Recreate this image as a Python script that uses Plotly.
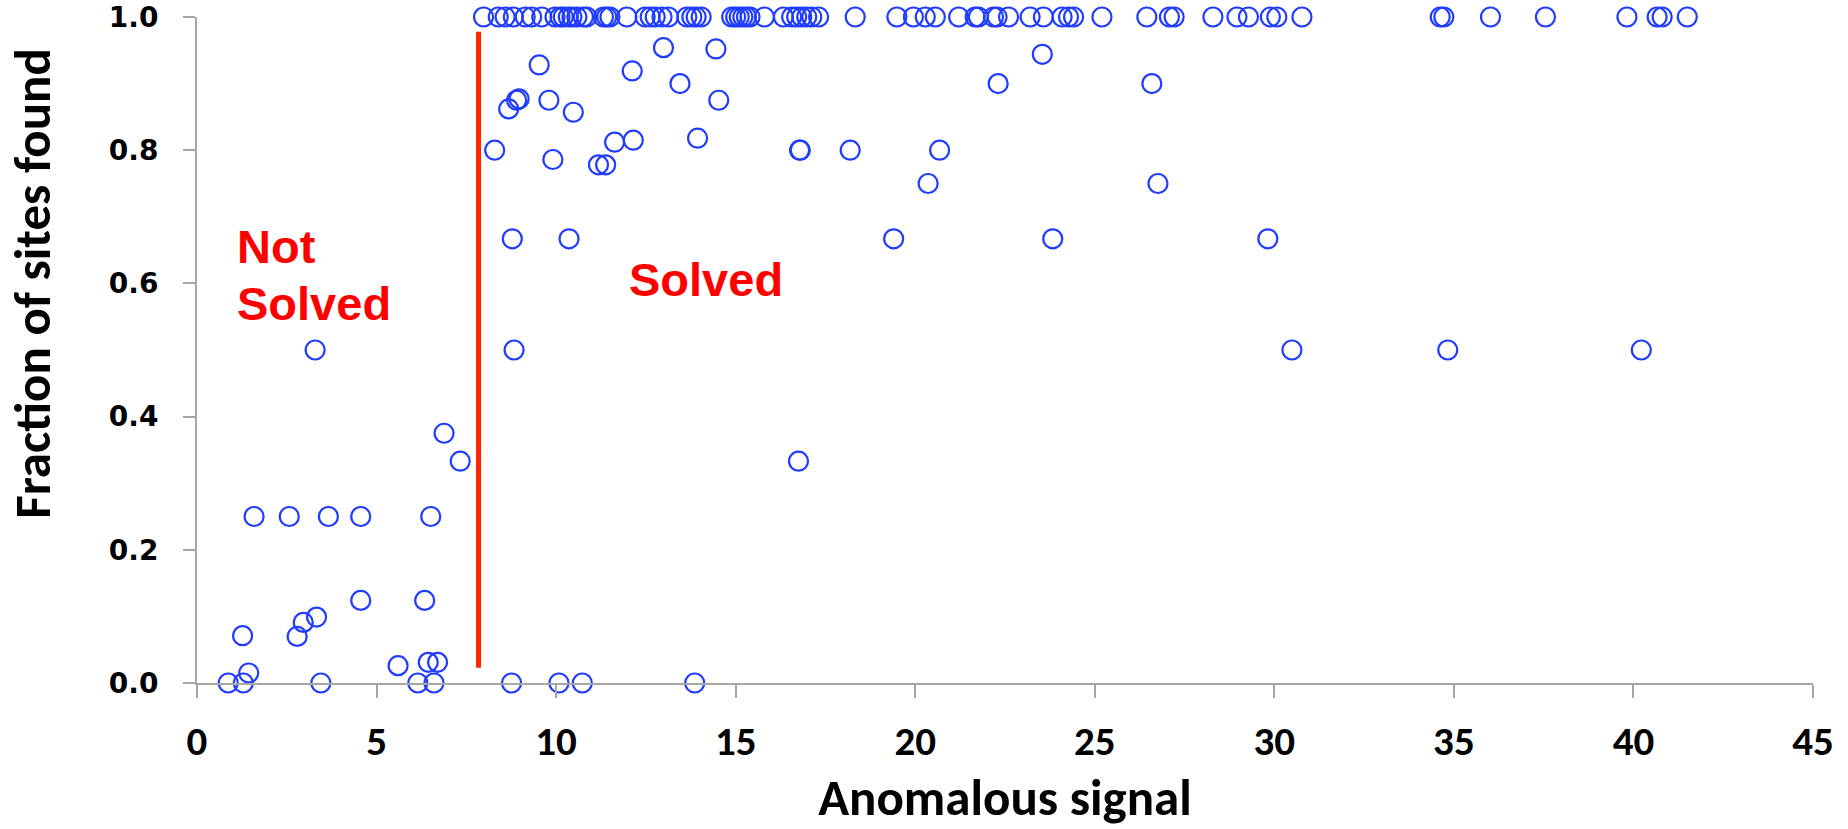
import plotly.graph_objects as go

# ---- data ----
# sites with all sites found (fraction = 1.0)
signal_top = [7.98, 8.39, 8.58, 8.81, 9.14, 9.32, 9.60, 9.97, 10.11, 10.20,
              10.34, 10.44, 10.58, 10.76, 10.85, 11.32, 11.41, 11.50, 11.97, 12.48,
              12.62, 12.76, 12.95, 13.13, 13.64, 13.78, 13.90, 14.04, 14.89, 15.00,
              15.10, 15.20, 15.30, 15.40, 15.80, 16.33, 16.56, 16.70, 16.84, 16.98,
              17.12, 17.31, 18.33, 19.49, 19.95, 20.28, 20.56, 21.21, 21.67, 21.76,
              22.18, 22.28, 22.60, 23.20, 23.57, 24.09, 24.27, 24.41, 25.20, 26.45,
              27.08, 27.21, 28.29, 28.96, 29.28, 29.89, 30.07, 30.77, 34.62, 34.72,
              36.02, 37.55, 39.82, 40.66, 40.80, 41.50]
fraction_top = [1.0, 1.0, 1.0, 1.0, 1.0, 1.0, 1.0, 1.0, 1.0, 1.0,
                1.0, 1.0, 1.0, 1.0, 1.0, 1.0, 1.0, 1.0, 1.0, 1.0,
                1.0, 1.0, 1.0, 1.0, 1.0, 1.0, 1.0, 1.0, 1.0, 1.0,
                1.0, 1.0, 1.0, 1.0, 1.0, 1.0, 1.0, 1.0, 1.0, 1.0,
                1.0, 1.0, 1.0, 1.0, 1.0, 1.0, 1.0, 1.0, 1.0, 1.0,
                1.0, 1.0, 1.0, 1.0, 1.0, 1.0, 1.0, 1.0, 1.0, 1.0,
                1.0, 1.0, 1.0, 1.0, 1.0, 1.0, 1.0, 1.0, 1.0, 1.0,
                1.0, 1.0, 1.0, 1.0, 1.0, 1.0]

# remaining sites
signal_rest = [0.87, 1.29, 1.44, 1.27, 1.59, 2.57, 3.29, 3.45, 2.79, 2.96,
               3.33, 3.66, 4.56, 4.56, 5.60, 6.15, 6.34, 6.44, 6.51, 6.60,
               6.70, 6.88, 7.33,
               8.76, 10.08, 10.73, 13.86, 8.83, 8.78, 10.36, 16.75,
               8.29, 8.68, 8.90, 8.97, 9.53, 9.80, 9.91, 10.48, 11.18, 11.38,
               11.63, 12.15, 12.12, 12.99, 13.45, 14.45, 14.53, 13.94, 16.78, 16.80,
               18.19, 20.68, 20.36, 19.40, 23.83, 22.31, 23.54, 26.59, 26.76, 29.82,
               30.49, 34.83, 40.22]
fraction_rest = [0.0, 0.0, 0.015, 0.071, 0.25, 0.25, 0.5, 0.0, 0.07, 0.091,
                 0.099, 0.25, 0.25, 0.124, 0.026, 0.0, 0.124, 0.031, 0.25, 0.0,
                 0.031, 0.375, 0.333,
                 0.0, 0.0, 0.0, 0.0, 0.5, 0.667, 0.667, 0.333,
                 0.8, 0.862, 0.875, 0.877, 0.928, 0.875, 0.786, 0.857, 0.778, 0.778,
                 0.812, 0.815, 0.919, 0.954, 0.9, 0.952, 0.875, 0.818, 0.8, 0.8,
                 0.8, 0.8, 0.75, 0.667, 0.667, 0.9, 0.944, 0.9, 0.75, 0.667,
                 0.5, 0.5, 0.5]

threshold_x = [7.84, 7.84]
threshold_y = [0.023, 0.978]

x_ticks = [0, 5, 10, 15, 20, 25, 30, 35, 40, 45]
y_ticks = [0.0, 0.2, 0.4, 0.6, 0.8, 1.0]
y_tick_labels = ["0.0", "0.2", "0.4", "0.6", "0.8", "1.0"]

signal = signal_top + signal_rest
fraction = fraction_top + fraction_rest

BLUE = "#1f3cff"
RED = "#ff2200"
AXIS = "#a6a6a6"
HUMANIST = "Carlito, Lato, sans-serif"
ARIAL = "Liberation Sans, Arial, sans-serif"

fig = go.Figure()

fig.add_trace(go.Scatter(
    x=threshold_x, y=threshold_y, mode="lines",
    line=dict(color=RED, width=5), hoverinfo="skip", showlegend=False,
    cliponaxis=False,
))

fig.add_trace(go.Scatter(
    x=signal, y=fraction, mode="markers",
    marker=dict(symbol="circle-open", size=19, color=BLUE, line=dict(width=2.2, color=BLUE)),
    showlegend=False, cliponaxis=False,
))

red_font = dict(family=ARIAL, size=47, color="#ff0000", weight="bold")
fig.add_annotation(x=1.06, y=0.655, xref="x", yref="y", text="Not", showarrow=False,
                   xanchor="left", yanchor="middle", font=red_font)
fig.add_annotation(x=1.06, y=0.570, xref="x", yref="y", text="Solved", showarrow=False,
                   xanchor="left", yanchor="middle", font=red_font)
fig.add_annotation(x=11.98, y=0.606, xref="x", yref="y", text="Solved", showarrow=False,
                   xanchor="left", yanchor="middle", font=red_font)

# y axis title (positioned above centre as in the reference)
fig.add_annotation(x=-0.1015, y=0.601, xref="paper", yref="paper",
                   text="Fraction of sites found", showarrow=False, textangle=-90,
                   xanchor="center", yanchor="middle",
                   font=dict(family=HUMANIST, size=51, color="black", weight="bold"))

fig.update_layout(
    width=1848, height=829, autosize=False,
    margin=dict(l=197, r=35, t=17, b=146, autoexpand=False),
    paper_bgcolor="white", plot_bgcolor="white",
    xaxis=dict(
        range=[0, 45], tickvals=x_ticks, showgrid=False, zeroline=False,
        showline=True, linecolor=AXIS, linewidth=2, automargin=False,
        ticks="outside", ticklen=13, tickwidth=1.5, tickcolor=AXIS,
        tickfont=dict(family=HUMANIST, size=41, color="black", weight="bold"),
        ticklabelstandoff=8,
        title=dict(text="Anomalous signal", standoff=30,
                   font=dict(family=HUMANIST, size=51, color="black", weight="bold")),
    ),
    yaxis=dict(
        range=[0, 1], tickvals=y_ticks, ticktext=y_tick_labels,
        showgrid=False, zeroline=False, automargin=False,
        showline=True, linecolor=AXIS, linewidth=2,
        ticks="outside", ticklen=12, tickwidth=1.5, tickcolor=AXIS,
        tickfont=dict(family="DejaVu Sans, Verdana, sans-serif", size=28, color="black", weight="bold"),
        ticklabelstandoff=19, ticklabeloverflow="allow",
    ),
)

fig.write_html("out.html")
